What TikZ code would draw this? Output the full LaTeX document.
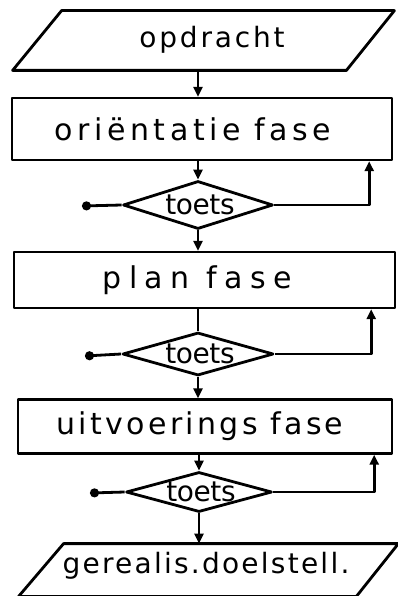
\documentclass[tikz,border=0pt]{standalone}
\usepackage{fontspec}
\setmainfont{DejaVu Sans}
\usetikzlibrary{shapes.geometric,arrows.meta}
\begin{document}
\begin{tikzpicture}[x=1pt,y=-1pt,
  line width=2.8pt, line join=round,
  phasebox/.style={draw, rectangle, inner sep=0pt, line width=2.4pt},
  phasetext/.style={font=\fontsize{30}{32}\selectfont\addfontfeatures{LetterSpace=#1}},
  iobox/.style={rectangle, inner sep=0pt},
  iotext/.style={font=\fontsize{28}{30}\selectfont\addfontfeatures{LetterSpace=#1}},
  check/.style={draw, diamond, inner sep=0pt},
  checktext/.style={font=\fontsize{28}{30}\selectfont\addfontfeatures{LetterSpace=-1.5}},
  flow/.style={-{Triangle[length=10pt,width=9pt]}},
  exit/.style={-{Circle[length=9pt]}}]
\useasboundingbox (0,0) rectangle (398,596);

% input: assignment
\node[iobox, minimum width=379pt, minimum height=57pt] (start) at (203.5,40.5) {};
\draw ([xshift=49pt]start.north west) -- (start.north east)
  -- ([xshift=-48pt]start.south east) -- (start.south west) -- cycle;
\node[iotext=10] (starttext) at (212,40) {opdracht};

% phases
\node[phasebox, minimum width=380pt, minimum height=62pt,
  label={[phasetext=15, xshift=-9pt]center:oriëntatie fase}] (box1) at (202,129) {};
\node[phasebox, minimum width=381pt, minimum height=56pt,
  label={[phasetext=25, xshift=-7pt]center:plan fase}] (box2) at (204.5,280) {};
\node[phasebox, minimum width=374pt, minimum height=54pt,
  label={[phasetext=11, xshift=-5pt]center:uitvoerings fase}] (box3) at (205,426.5) {};

% checks
\node[check, minimum width=150pt, minimum height=48pt,
  label={[checktext, xshift=2pt]center:toets}] (d1) at (198,205) {};
\node[check, minimum width=151pt, minimum height=43pt,
  label={[checktext, xshift=2pt]center:toets}] (d2) at (198,354) {};
\node[check, minimum width=146pt, minimum height=40pt,
  label={[checktext, xshift=2pt]center:toets}] (d3) at (199,492) {};

% output: realised goals
\node[iobox, minimum width=377pt, minimum height=50pt] (end) at (208.5,570) {};
\draw ([xshift=45pt]end.north west) -- (end.north east)
  -- ([xshift=-42pt]end.south east) -- (end.south west) -- cycle;
\node[iotext=8] (endtext) at (206,566) {gerealis.doelstell.};

% main flow
\draw[flow] (start.south -| d1.north) -- (box1.north -| d1.north);
\draw[flow] (box1.south -| d1.north) -- (d1.north);
\draw[flow] (d1.south) -- (box2.north -| d1.south);
\draw (box2.south -| d2.north) -- (d2.north);
\draw[flow] (d2.south) -- (box3.north -| d2.south);
\draw[flow] (box3.south -| d3.north) -- (d3.north);
\draw[flow] (d3.south) -- (end.north -| d3.south);

% feedback loops
\draw[flow] (d1.east) -| ([xshift=-24pt]box1.south east);
\draw[flow] (d2.east) -| ([xshift=-25pt]box2.south east);
\draw[flow] (d3.east) -| ([xshift=-19pt]box3.south east);

% exits
\coordinate (x1) at (82,206);
\coordinate (x2) at (85,356);
\coordinate (x3) at (90,493);
\draw[exit] (d1.west) -- (x1);
\draw[exit] (d2.west) -- (x2);
\draw[exit] (d3.west) -- (x3);
\end{tikzpicture}
\end{document}
